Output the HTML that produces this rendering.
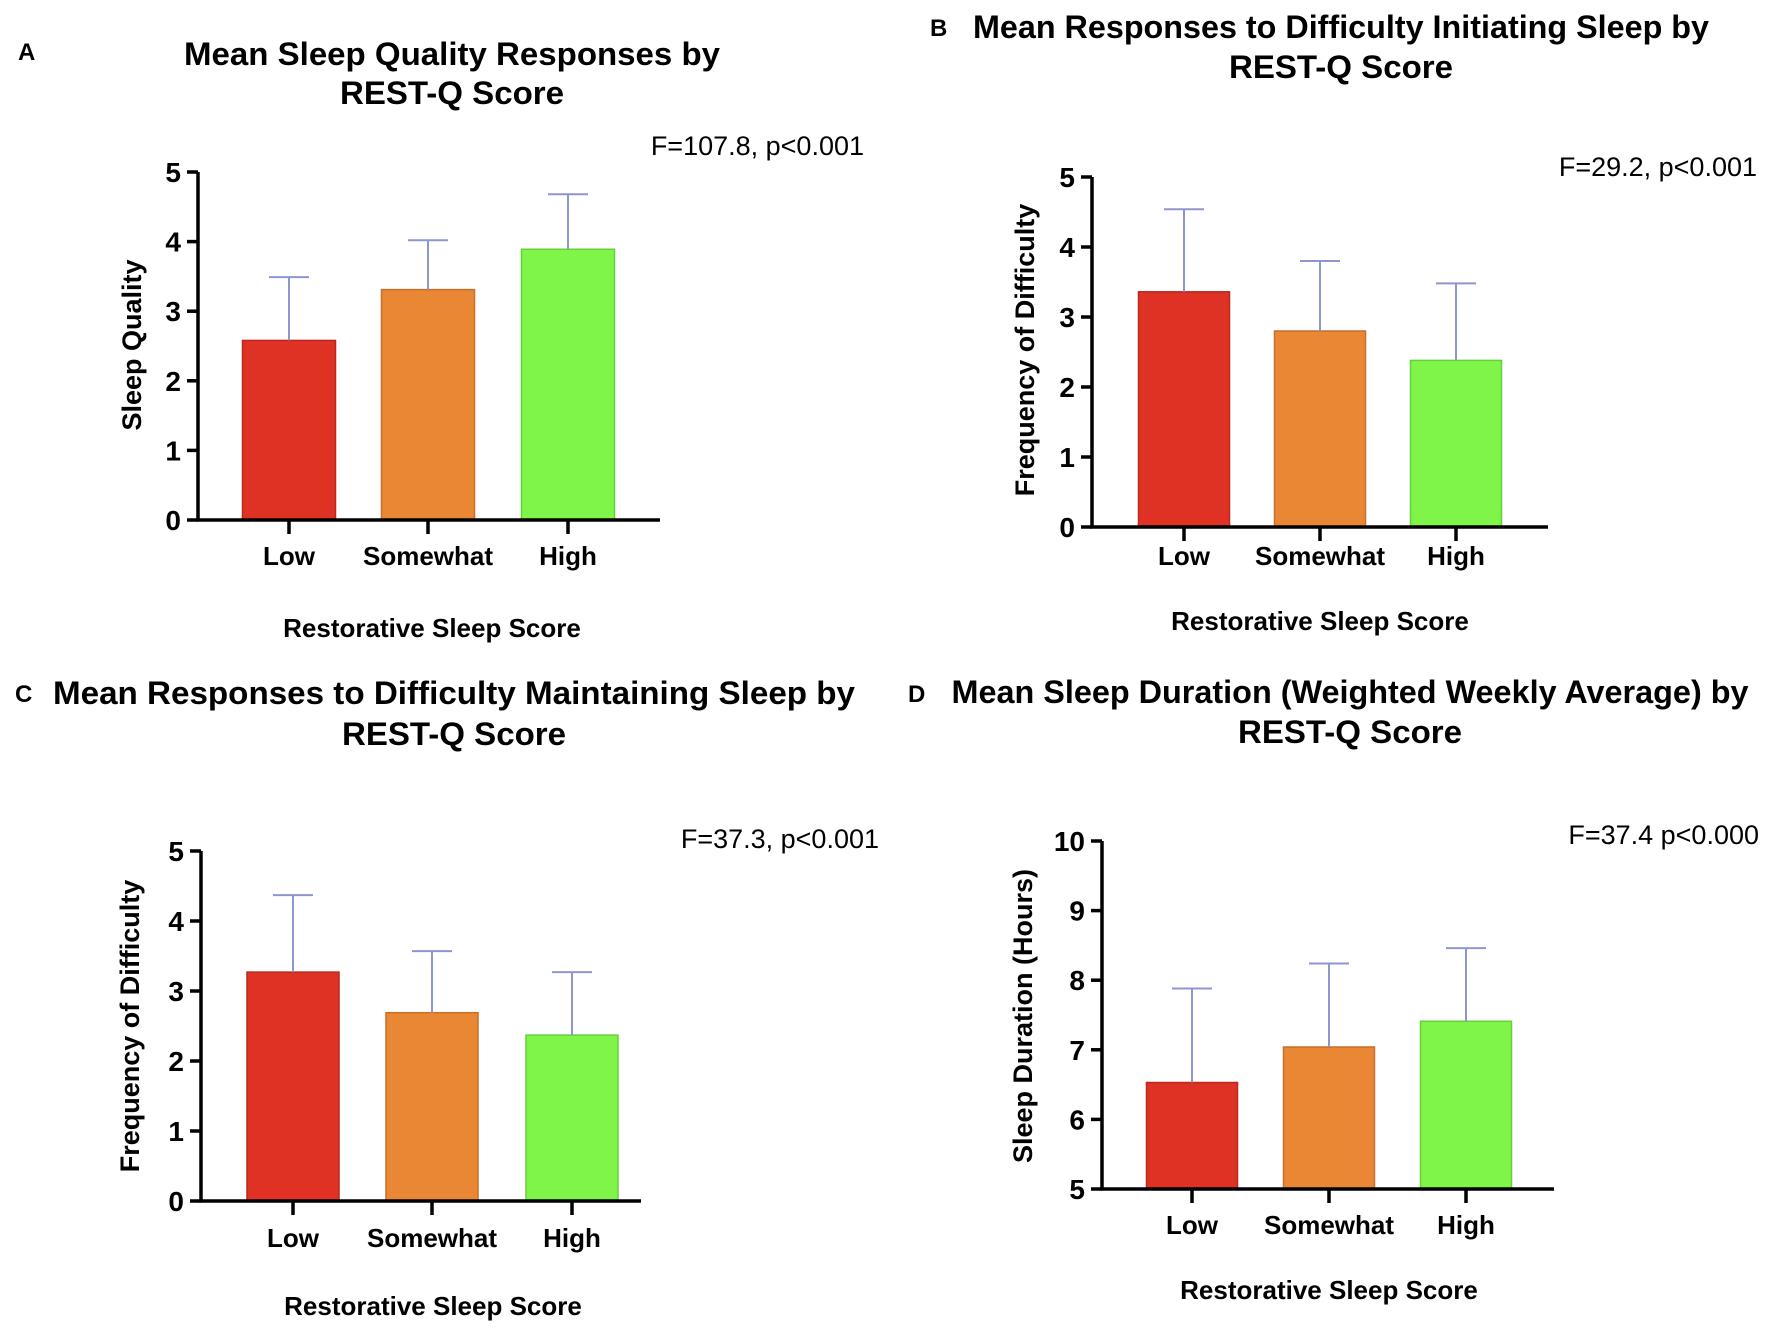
<!DOCTYPE html>
<html><head><meta charset="utf-8">
<style>
html,body{margin:0;padding:0;background:#fff;}
svg{display:block;font-family:"Liberation Sans",Arial,sans-serif;}
</style></head>
<body>
<svg id="fig" width="1772" height="1331" viewBox="0 0 1772 1331" xmlns="http://www.w3.org/2000/svg"></svg>
<script>
const categories = ["Low","Somewhat","High"];
const meansA = [2.58, 3.31, 3.89];
const errsA  = [3.49, 4.02, 4.68];
const meansB = [3.36, 2.80, 2.38];
const errsB  = [4.54, 3.80, 3.48];
const meansC = [3.27, 2.69, 2.37];
const errsC  = [4.37, 3.57, 3.27];
const meansD = [6.53, 7.04, 7.41];
const errsD  = [7.88, 8.24, 8.46];
const ticksA = [0,1,2,3,4,5];
const ticksD = [5,6,7,8,9,10];
const barColors = ["#e03224","#e98734","#7ff54a"];
const barEdges = ["#b8281c","#c86f28","#66d03a"];

const NS="http://www.w3.org/2000/svg";
const svg=document.getElementById('fig');
function mk(tag,attrs,parent){const e=document.createElementNS(NS,tag);for(const k in attrs)e.setAttribute(k,attrs[k]);(parent||svg).appendChild(e);return e;}
function txt(s,attrs,parent){const e=mk('text',attrs,parent);e.textContent=s;return e;}

function panel(p){
  const g=mk('g',{});
  
  
  const y=v=>p.y0-(v-p.vmin)*p.ppu;
  const xc=i=>p.cx[i];
  let t=txt(p.id,{x:p.lx,y:p.ly,'font-size':24,'font-weight':'bold',fill:'#000'},g);
  
  t=txt(p.t1,{x:p.tx,y:p.ty1,'font-size':32,'font-weight':'bold','text-anchor':'middle',textLength:p.tw1,lengthAdjust:'spacingAndGlyphs'},g);
  
  t=txt("REST-Q Score",{x:p.tx,y:p.ty2,'font-size':32,'font-weight':'bold','text-anchor':'middle',textLength:224,lengthAdjust:'spacingAndGlyphs'},g);
  
  t=txt(p.stat,{x:p.sx,y:p.sy,'font-size':27,'text-anchor':'end'},g);
  
  p.means.forEach((m,i)=>{
    const r=mk('rect',{x:xc(i)-p.bw/2,y:y(m),width:p.bw,height:p.y0-y(m),fill:barColors[i],stroke:barEdges[i],'stroke-width':1.5},g);
    
    
    const eb=mk('path',{d:`M${xc(i)},${y(m)}V${y(p.errs[i])}M${xc(i)-20},${y(p.errs[i])}H${xc(i)+20}`,stroke:'#8e96d0','stroke-width':2,fill:'none'},g);
    
    
  });
  const ax=mk('path',{d:`M${p.ax},${y(p.ticks[p.ticks.length-1])}V${p.y0}H${p.axEnd}`,stroke:'#000','stroke-width':3.5,fill:'none'},g);
  
  p.ticks.forEach(v=>{
    mk('line',{x1:p.ax-11,x2:p.ax,y1:y(v),y2:y(v),stroke:'#000','stroke-width':3.5},g);
    const tl=txt(String(v),{x:p.ax-17,y:y(v)+10,'font-size':28,'font-weight':'bold','text-anchor':'end'},g);
    
  });
  categories.forEach((c,i)=>{
    mk('line',{x1:xc(i),x2:xc(i),y1:p.y0,y2:p.y0+14,stroke:'#000','stroke-width':3.5},g);
    const cl=txt(c,{x:xc(i),y:p.cy,'font-size':26,'font-weight':'bold','text-anchor':'middle'},g);
    
  });
  t=txt("Restorative Sleep Score",{x:p.xtx,y:p.xty,'font-size':26,'font-weight':'bold','text-anchor':'middle'},g);
  
  t=txt(p.ylab,{x:0,y:0,'font-size':27,'font-weight':'bold','text-anchor':'middle',transform:`translate(${p.ylx},${p.yly}) rotate(-90)`},g);
  
}

panel({id:'A',lx:18,ly:60,t1:"Mean Sleep Quality Responses by",tx:452,ty1:65,ty2:104,tw1:536,
  stat:"F=107.8, p<0.001",sx:864,sy:155,means:meansA,errs:errsA,ticks:ticksA,vmin:0,
  y0:520,ppu:69.6,ax:198,axEnd:660,cx:[289,428,568],bw:93,cy:565,xtx:432,xty:637,ylab:"Sleep Quality",ylx:141,yly:345});
panel({id:'B',lx:930,ly:36,t1:"Mean Responses to Difficulty Initiating Sleep by",tx:1341,ty1:38,ty2:78,tw1:736,
  stat:"F=29.2, p<0.001",sx:1757,sy:176,means:meansB,errs:errsB,ticks:ticksA,vmin:0,
  y0:527,ppu:70,ax:1092,axEnd:1548,cx:[1184,1320,1456],bw:91,cy:565,xtx:1320,xty:630,ylab:"Frequency of Difficulty",ylx:1034,yly:350});
panel({id:'C',lx:15,ly:702,t1:"Mean Responses to Difficulty Maintaining Sleep by",tx:454,ty1:704,ty2:745,tw1:802,
  stat:"F=37.3, p<0.001",sx:879,sy:848,means:meansC,errs:errsC,ticks:ticksA,vmin:0,
  y0:1201,ppu:70,ax:201,axEnd:641,cx:[293,432,572],bw:92,cy:1247,xtx:433,xty:1315,ylab:"Frequency of Difficulty",ylx:139,yly:1026});
panel({id:'D',lx:908,ly:702,t1:"Mean Sleep Duration (Weighted Weekly Average) by",tx:1350,ty1:703,ty2:743,tw1:797,
  stat:"F=37.4 p<0.000",sx:1759,sy:844,means:meansD,errs:errsD,ticks:ticksD,vmin:5,
  y0:1189,ppu:69.6,ax:1102,axEnd:1554,cx:[1192,1329,1466],bw:91,cy:1234,xtx:1329,xty:1299,ylab:"Sleep Duration (Hours)",ylx:1032,yly:1016});
</script>
</body></html>
